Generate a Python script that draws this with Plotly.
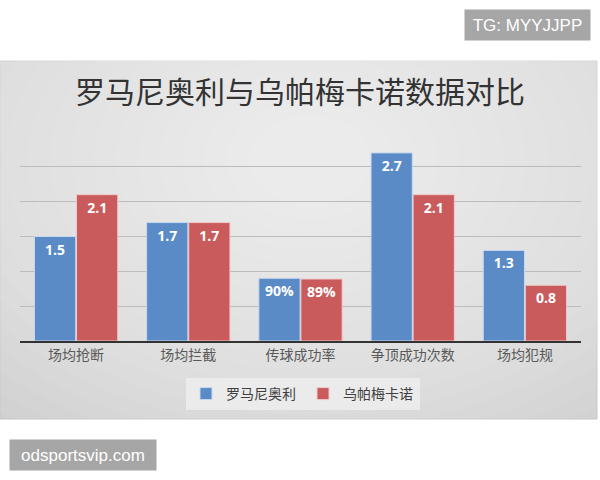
import plotly.graph_objects as go

categories = ["场均抢断", "场均拦截", "传球成功率", "争顶成功次数", "场均犯规"]
romagnoli_values = [1.5, 1.7, 0.90, 2.7, 1.3]
upamecano_values = [2.1, 1.7, 0.89, 2.1, 0.8]
romagnoli_labels = ["1.5", "1.7", "90%", "2.7", "1.3"]
upamecano_labels = ["2.1", "1.7", "89%", "2.1", "0.8"]
series_names = ["罗马尼奥利", "乌帕梅卡诺"]
title_text = "罗马尼奥利与乌帕梅卡诺数据对比"

W, H = 600, 480
def px(x):
    return x / W
def py(y):
    return 1 - y / H

CJK = "Noto Sans CJK SC"

fig = go.Figure()
fig.add_trace(go.Bar(
    x=categories, y=romagnoli_values, name=series_names[0],
    text=romagnoli_labels, textposition="inside", insidetextanchor="end",
    textfont=dict(color="white", size=14, family="Open Sans", weight="bold"),
    marker=dict(color="#5a8bc6", line=dict(color="#c8d8ee", width=1)),
))
fig.add_trace(go.Bar(
    x=categories, y=upamecano_values, name=series_names[1],
    text=upamecano_labels, textposition="inside", insidetextanchor="end",
    textfont=dict(color="white", size=14, family="Open Sans", weight="bold"),
    marker=dict(color="#c95b5c", line=dict(color="#f0c9c9", width=1)),
))

shapes = []
shapes.append(dict(type="rect", xref="paper", yref="paper", layer="below",
                   x0=px(0), x1=px(597), y0=py(419), y1=py(61),
                   fillcolor="#d0d0d0", line=dict(color="#c4c4c4", width=1)))
cx, cy = 310, 160
n = 20
for i in range(n):
    f = 1 - i / n
    rx, ry = 40 + 440 * f, 30 + 300 * f
    shapes.append(dict(type="circle", xref="paper", yref="paper", layer="below",
                       x0=px(cx - rx), x1=px(cx + rx),
                       y0=py(cy + ry), y1=py(cy - ry),
                       fillcolor="white", opacity=0.06, line=dict(width=0)))

fig.update_layout(
    width=W, height=H,
    margin=dict(l=0, r=0, t=0, b=0),
    paper_bgcolor="white", plot_bgcolor="rgba(0,0,0,0)",
    barmode="group", bargap=0.25, bargroupgap=0.02,
    shapes=shapes,
    showlegend=True,
    legend=dict(orientation="h", x=px(303), xanchor="center", y=py(394), yanchor="middle",
                bgcolor="#ebebeb", font=dict(family=CJK, size=14, color="#404040"),
                itemwidth=30, traceorder="normal", tracegroupgap=0,
                entrywidth=72),
    xaxis=dict(domain=[px(20), px(581)], showgrid=False, showline=True,
               linecolor="#333333", linewidth=1.5, ticks="",
               tickfont=dict(family=CJK, size=14, color="#595959")),
    yaxis=dict(domain=[py(341), py(132)], range=[0, 3], dtick=0.5,
               showticklabels=False, showgrid=True, gridcolor="#bcbcbc",
               gridwidth=1, zeroline=False),
    annotations=[
        dict(text=title_text, xref="paper", yref="paper", x=0.5, y=py(90),
             xanchor="center", yanchor="middle", showarrow=False,
             font=dict(family=CJK, size=30, color="#333333")),
        dict(text="TG: MYYJJPP", xref="paper", yref="paper", x=px(527.5), y=py(25),
             xanchor="center", yanchor="middle", showarrow=False,
             bgcolor="#a6a6a6", width=115, height=20, borderpad=5,
             font=dict(family="Liberation Sans", size=17, color="white")),
        dict(text="odsportsvip.com", xref="paper", yref="paper", x=px(83), y=py(455),
             xanchor="center", yanchor="middle", showarrow=False,
             bgcolor="#a6a6a6", width=136, height=20, borderpad=5,
             font=dict(family="Liberation Sans", size=17, color="white")),
    ],
)

fig.write_html("out.html", config={"displayModeBar": False},
               post_script="document.body.style.margin='0';")
